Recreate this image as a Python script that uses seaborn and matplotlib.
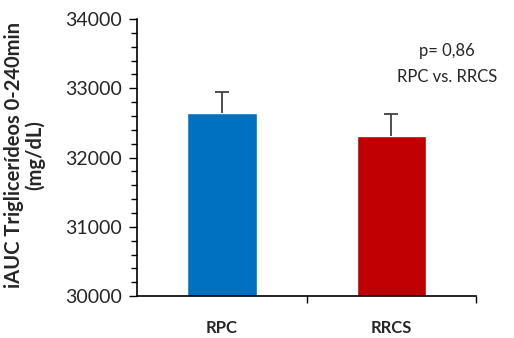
import numpy as np
import pandas as pd
import matplotlib
matplotlib.use("Agg")
import matplotlib.pyplot as plt
from matplotlib.ticker import MultipleLocator, FixedLocator
import seaborn as sns

# data
groups = ["RPC", "RRCS"]
means = [32640, 32315]
sem_up = [300, 310]
colors = ["#0070C0", "#C00000"]

sns.set_style("white")
plt.rcParams['font.family'] = ['Lato', 'DejaVu Sans']

df = pd.DataFrame({"group": groups, "iauc": means})

fig = plt.figure(figsize=(5.14, 3.38), dpi=100)
ax = fig.add_axes([0.2665, 0.124, 0.66, 0.82])

sns.barplot(data=df, x="group", y="iauc", hue="group", palette=colors,
            width=0.41, legend=False, ax=ax, saturation=1)
# upper error bars only
eb = ax.errorbar(np.arange(len(groups)), means, yerr=[[0] * len(groups), sem_up],
                 fmt="none", ecolor="#404040", elinewidth=1.3, capsize=5,
                 capthick=1.3, zorder=3)
eb[1][0].set_visible(False)  # drop the lower caps

ax.set_ylim(30000, 34000)
ax.set_xlim(-0.5, 1.5)
ax.yaxis.set_major_locator(MultipleLocator(1000))
ax.yaxis.set_minor_locator(MultipleLocator(200))
ax.xaxis.set_minor_locator(FixedLocator([0.5, 1.5]))

ax.tick_params(axis="y", which="major", left=True, length=6, width=1,
               color="black", labelsize=14, labelcolor="#262626", pad=5)
ax.tick_params(axis="y", which="minor", left=True, length=4, width=1, color="black")
ax.tick_params(axis="x", which="major", bottom=False, length=0, pad=17,
               labelsize=12)
ax.tick_params(axis="x", which="minor", bottom=True, length=5, width=1, color="black")
for lab in ax.get_xticklabels():
    lab.set_fontweight("bold")

for side in ["top", "right"]:
    ax.spines[side].set_visible(False)
for side in ["left", "bottom"]:
    ax.spines[side].set_color("black")
    ax.spines[side].set_linewidth(1.2)

ax.set_xlabel("")
ax.set_ylabel("iAUC Triglicerídeos 0-240min\n(mg/dL)", fontsize=14.5,
              fontweight="bold", linespacing=1.05)
ax.yaxis.set_label_coords(-0.27, 0.51)

ax.text(0.914, 0.838, "p= 0,86\nRPC vs. RRCS", transform=ax.transAxes,
        ha="center", va="center", fontsize=12, color="#262626", linespacing=1.8)

fig.savefig("out.png", dpi=100)
